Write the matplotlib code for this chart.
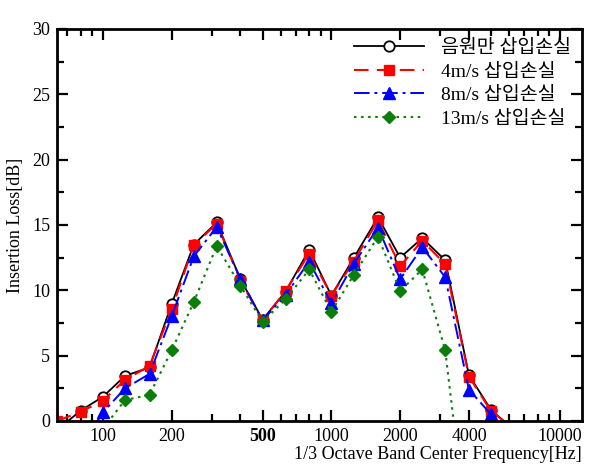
import numpy as np
import matplotlib.pyplot as plt
from matplotlib.ticker import FixedLocator, FixedFormatter, LogLocator, NullFormatter, MultipleLocator

plt.rcParams['font.family'] = ['Liberation Serif', 'Noto Sans CJK KR']
plt.rcParams['mathtext.fontset'] = 'stix'

# 1/3 octave band centre frequencies [Hz]
freq = [63, 80, 100, 125, 160, 200, 250, 315, 400, 500, 630, 800, 1000,
        1250, 1600, 2000, 2500, 3150, 4000, 5000, 6300]

# insertion loss [dB] (values below 0 are clipped by the axis)
il_source = [-0.7, 0.8, 1.85, 3.45, 4.1, 8.95, 13.5, 15.2, 10.85, 7.75, 9.9,
             13.1, 9.6, 12.45, 15.6, 12.5, 14.0, 12.3, 3.5, 0.85, -0.7]
il_4ms = [0.0, 0.7, 1.55, 3.15, 4.2, 8.55, 13.45, 15.1, 10.75, 7.7, 9.95,
          12.8, 9.6, 12.2, 15.35, 11.85, 13.8, 12.0, 3.4, 0.75, -0.6]
freq_8 = freq[1:]
il_8ms = [-2.0, 0.65, 2.5, 3.6, 8.0, 12.6, 14.85, 10.9, 7.7, 9.65,
          12.2, 9.0, 12.0, 14.8, 10.85, 13.3, 11.0, 2.4, 0.5, -0.9]
freq_13 = freq[2:19]
il_13ms = [-0.6, 1.6, 2.0, 5.4, 9.1, 13.4, 10.35, 7.6, 9.3,
           11.6, 8.35, 11.15, 14.1, 9.95, 11.6, 5.4, -9.8]

labels = ['음원만 삽입손실', '4m/s 삽입손실', '8m/s 삽입손실', '13m/s 삽입손실']

fig = plt.figure(figsize=(6.02, 4.66), dpi=100)
ax = fig.add_axes([0.0947, 0.0966, 0.8721, 0.8412])

ax.plot(freq, il_source, color='black', lw=1.3, marker='o', ms=7.5,
        mfc='white', mec='black', mew=1.3, label=labels[0])
ax.plot(freq, il_4ms, color='red', lw=1.5, ls=(0, (7, 4)), marker='s', ms=7.5,
        mfc='red', mec='red', label=labels[1])
ax.plot(freq_8, il_8ms, color='blue', lw=1.4, ls=(0, (8, 2.5, 1.5, 2.5)), marker='^', ms=8,
        mfc='blue', mec='blue', label=labels[2])
ax.plot(freq_13, il_13ms, color='#0a7d0a', lw=1.5, ls=(0, (1.2, 2.2)), marker='D', ms=6.5,
        mfc='#0a7d0a', mec='#0a7d0a', label=labels[3])

ax.set_xscale('log')
ax.set_xlim(63, 12500)
ax.set_ylim(0, 30)

xt = [100, 200, 500, 1000, 2000, 4000, 10000]
ax.xaxis.set_major_locator(FixedLocator(xt))
ax.xaxis.set_major_formatter(FixedFormatter([str(v) for v in xt]))
ax.xaxis.set_minor_locator(LogLocator(base=10, subs=np.arange(2, 10)))
ax.xaxis.set_minor_formatter(NullFormatter())
ax.yaxis.set_major_locator(MultipleLocator(5))
ax.yaxis.set_minor_locator(MultipleLocator(2.5))

ax.tick_params(which='both', direction='in', top=True, right=True, width=1.6)
ax.tick_params(which='major', length=8, labelsize=13, pad=5)
ax.tick_params(which='minor', length=5)
for s in ax.spines.values():
    s.set_linewidth(2)

for t in ax.get_xticklabels():
    if t.get_text() == '500':
        t.set_fontweight('bold')

ax.set_ylabel('Insertion Loss[dB]', fontsize=13, labelpad=6)
ax.set_xlabel('1/3 Octave Band Center Frequency[Hz]', fontsize=13, loc='right', labelpad=1)

ax.legend(loc='upper right', frameon=False, fontsize=14, handlelength=3.6,
          labelspacing=0.3, handletextpad=0.9, borderaxespad=0.15,
          bbox_to_anchor=(1.0, 1.0))

fig.savefig('out.png', dpi=100)
